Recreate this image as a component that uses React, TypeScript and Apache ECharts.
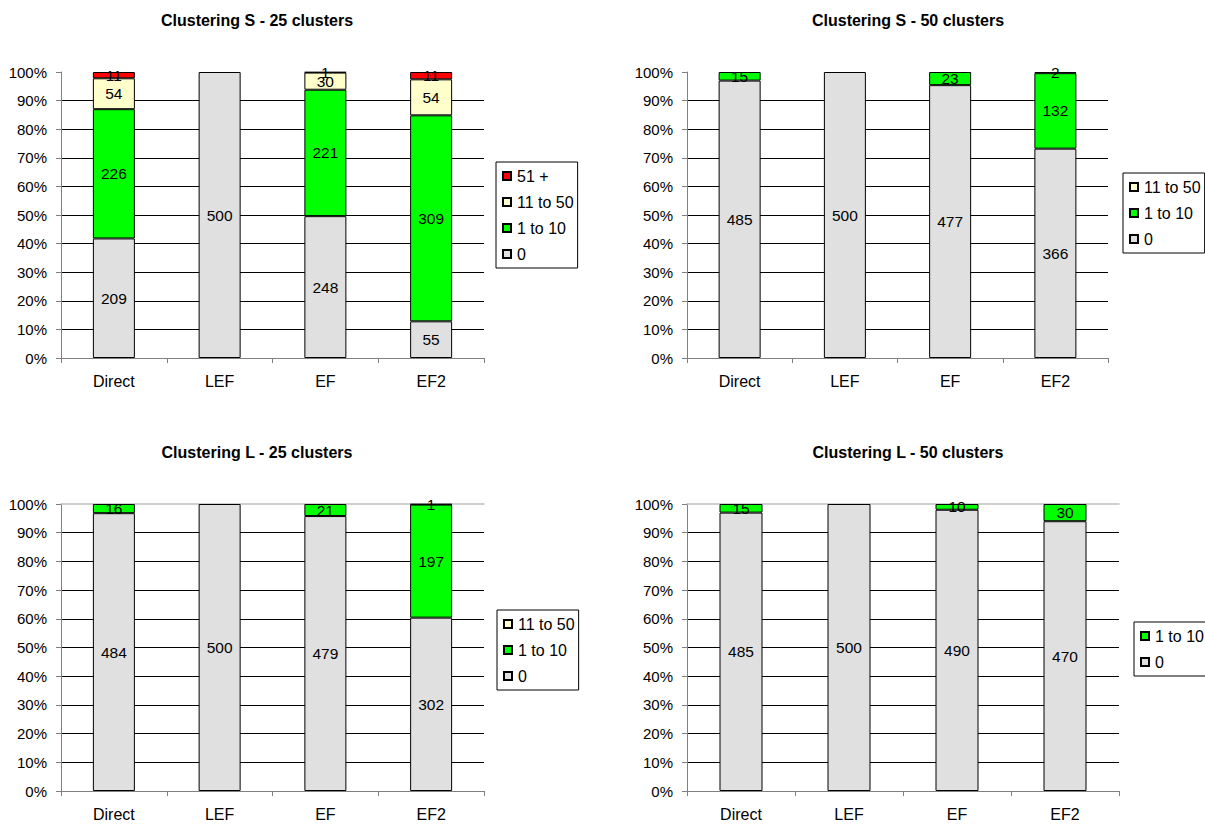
import React, { useEffect, useRef } from "react";
import * as echarts from "echarts";

const categories = ["Direct", "LEF", "EF", "EF2"];
const seriesNames = ["0", "1 to 10", "11 to 50", "51 +"];
const seriesColors = ["#E0E0E0", "#00FF00", "#FFFFCC", "#FF0000"];

// Clustering S - 25 clusters
const s25Zero = [209, 500, 248, 55];
const s25OneTo10 = [226, 0, 221, 309];
const s25ElevenTo50 = [54, 0, 30, 54];
const s25Over50 = [11, 0, 1, 11];

// Clustering S - 50 clusters
const s50Zero = [485, 500, 477, 366];
const s50OneTo10 = [15, 0, 23, 132];
const s50ElevenTo50 = [0, 0, 0, 2];

// Clustering L - 25 clusters
const l25Zero = [484, 500, 479, 302];
const l25OneTo10 = [16, 0, 21, 197];
const l25ElevenTo50 = [0, 0, 0, 1];

// Clustering L - 50 clusters
const l50Zero = [485, 500, 490, 470];
const l50OneTo10 = [15, 0, 10, 30];

const panels = [
  {
    title: "Clustering S - 25 clusters",
    data: [s25Zero, s25OneTo10, s25ElevenTo50, s25Over50],
    legendItems: 4,
    titlePos: { x: 257, y: 12 },
    grid: { left: 61, top: 72, width: 423, height: 286 },
    legend: { left: 496, top: 162 },
    barWidth: 42,
    topBorder: false,
  },
  {
    title: "Clustering S - 50 clusters",
    data: [s50Zero, s50OneTo10, s50ElevenTo50],
    legendItems: 3,
    titlePos: { x: 908, y: 12 },
    grid: { left: 687, top: 72, width: 421, height: 286 },
    legend: { left: 1123, top: 173 },
    barWidth: 42,
    topBorder: false,
  },
  {
    title: "Clustering L - 25 clusters",
    data: [l25Zero, l25OneTo10, l25ElevenTo50],
    legendItems: 3,
    titlePos: { x: 257, y: 444 },
    grid: { left: 61, top: 504, width: 423, height: 287 },
    legend: { left: 497, top: 610 },
    barWidth: 42,
    topBorder: true,
  },
  {
    title: "Clustering L - 50 clusters",
    data: [l50Zero, l50OneTo10],
    legendItems: 2,
    titlePos: { x: 908, y: 444 },
    grid: { left: 687, top: 504, width: 432, height: 287 },
    legend: { left: 1134, top: 622 },
    barWidth: 43,
    topBorder: true,
  },
];

const FONT = "'Liberation Sans', Arial, sans-serif";

function buildOption() {
  const title: any[] = [];
  const grid: any[] = [];
  const xAxis: any[] = [];
  const yAxis: any[] = [];
  const legend: any[] = [];
  const series: any[] = [];

  panels.forEach((p, gi) => {
    title.push({
      text: p.title,
      left: p.titlePos.x,
      top: p.titlePos.y,
      textAlign: "center",
      padding: 0,
      textStyle: { fontFamily: FONT, fontSize: 16, fontWeight: "bold", color: "#000" },
    });
    grid.push({ ...p.grid, containLabel: false });
    const xIndex = xAxis.length;
    xAxis.push({
      type: "category",
      gridIndex: gi,
      data: categories,
      boundaryGap: true,
      axisLine: { show: true, lineStyle: { color: "#808080", width: 1 } },
      axisTick: { show: true, length: 5, lineStyle: { color: "#808080" } },
      axisLabel: { fontFamily: FONT, fontSize: 16, color: "#000", margin: 15 },
      splitLine: { show: false },
    });
    if (p.topBorder) {
      xAxis.push({
        type: "category",
        gridIndex: gi,
        position: "top",
        data: categories,
        axisLine: { show: true, lineStyle: { color: "#C0C0C0", width: 1.5 } },
        axisTick: { show: false },
        axisLabel: { show: false },
        splitLine: { show: false },
        z: 0,
      });
    }
    yAxis.push({
      type: "value",
      gridIndex: gi,
      min: 0,
      max: 100,
      interval: 10,
      axisLine: { show: true, lineStyle: { color: "#808080", width: 1 } },
      axisTick: { show: true, length: 5, lineStyle: { color: "#808080" } },
      axisLabel: {
        fontFamily: FONT,
        fontSize: 15,
        color: "#000",
        margin: 14,
        formatter: "{value}%",
      },
      splitLine: {
        show: true,
        showMinLine: false,
        showMaxLine: false,
        lineStyle: { color: "#000", width: 1 },
      },
    });
    const names = seriesNames.slice(0, p.legendItems);
    legend.push({
      orient: "vertical",
      left: p.legend.left,
      top: p.legend.top,
      data: names.slice().reverse(),
      icon: "rect",
      itemWidth: 8,
      itemHeight: 8,
      itemGap: 10,
      selectedMode: false,
      borderColor: "#000",
      borderWidth: 1,
      borderRadius: 0,
      padding: [6, 4, 6, 6],
      textStyle: { fontFamily: FONT, fontSize: 16, color: "#000", lineHeight: 16, padding: [0, 0, 0, 1] },
    });
    const totals = categories.map((_, ci) =>
      p.data.reduce((s, arr) => s + arr[ci], 0)
    );
    p.data.forEach((arr, si) => {
      series.push({
        type: "bar",
        name: seriesNames[si],
        xAxisIndex: xIndex,
        yAxisIndex: gi,
        stack: "stack" + gi,
        barWidth: p.barWidth,
        z: 3,
        itemStyle: { color: seriesColors[si], borderColor: "#000", borderWidth: 1 },
        label: {
          show: true,
          position: "inside",
          fontFamily: FONT,
          fontSize: 15.5,
          color: "#000",
          textBorderWidth: 0,
          formatter: (params: any) => String(params.data.raw),
        },
        data: arr.map((v, ci) =>
          v === 0 ? { value: null, raw: 0 } : { value: (v / totals[ci]) * 100, raw: v }
        ),
      });
    });
  });

  return {
    animation: false,
    backgroundColor: "#fff",
    textStyle: { fontFamily: FONT },
    title,
    grid,
    xAxis,
    yAxis,
    legend,
    series,
  };
}

export default function App() {
  const ref = useRef<HTMLDivElement>(null);
  useEffect(() => {
    if (!ref.current) return;
    const chart = echarts.init(ref.current, null, { renderer: "svg" });
    chart.setOption(buildOption() as any);
    return () => chart.dispose();
  }, []);
  return (
    <div
      ref={ref}
      style={{ position: "absolute", left: 0, top: 0, width: 1205, height: 825 }}
    />
  );
}
